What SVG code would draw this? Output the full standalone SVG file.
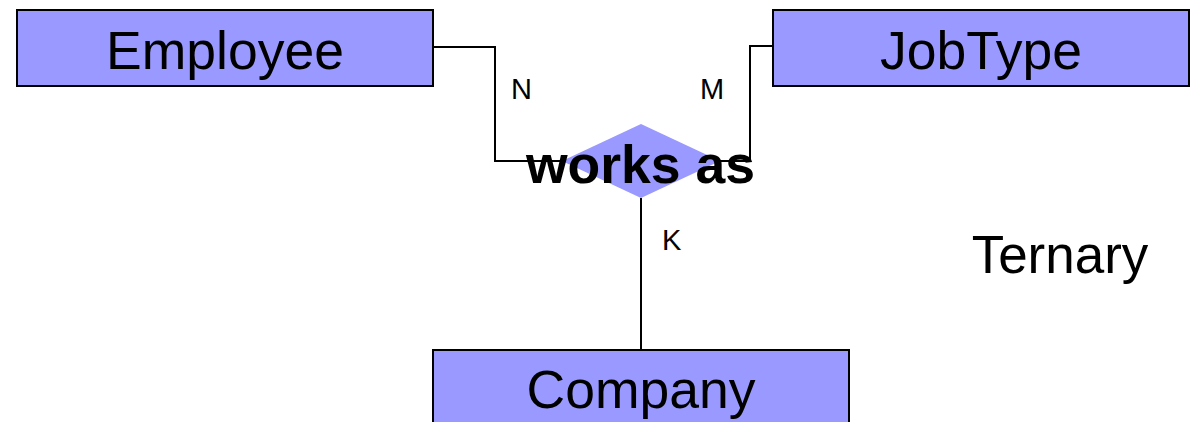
<svg xmlns="http://www.w3.org/2000/svg" width="1196" height="422" viewBox="0 0 1196 422">
  <style>
    .entity { fill: #9999ff; stroke: #000; stroke-width: 2; }
    .rel { fill: #9999ff; stroke: none; }
    .conn { fill: none; stroke: #000; stroke-width: 2; }
    .label { font-family: "Liberation Sans", Arial, sans-serif; fill: #000; }
    .big { font-size: 53.5px; text-anchor: middle; }
    .card { font-size: 29px; }
  </style>
  <rect width="1196" height="422" fill="#fff"/>
  <g id="connectors">
    <polyline class="conn" points="433,47 495,47 495,161 562,161"/>
    <polyline class="conn" points="773,46 750,46 750,161 718,161"/>
    <line class="conn" x1="641" y1="198" x2="641" y2="350"/>
  </g>
  <g id="employee">
    <rect class="entity" x="17" y="10" width="416" height="76"/>
    <text class="label big" x="225" y="69">Employee</text>
  </g>
  <g id="jobtype">
    <rect class="entity" x="773" y="10" width="416" height="76"/>
    <text class="label big" x="981" y="69">JobType</text>
  </g>
  <g id="company">
    <rect class="entity" x="433" y="350" width="416" height="80"/>
    <text class="label big" x="641" y="408">Company</text>
  </g>
  <g id="works-as">
    <polygon class="rel" points="641,124 720,161 641,198 562,161"/>
    <text class="label" x="640.5" y="183" font-size="53.5" font-weight="bold" text-anchor="middle">works as</text>
  </g>
  <g id="cardinalities">
    <text class="label card" x="511" y="99">N</text>
    <text class="label card" x="700" y="99">M</text>
    <text class="label card" x="662" y="250">K</text>
  </g>
  <text class="label" x="1060" y="273" font-size="53" text-anchor="middle">Ternary</text>
</svg>
